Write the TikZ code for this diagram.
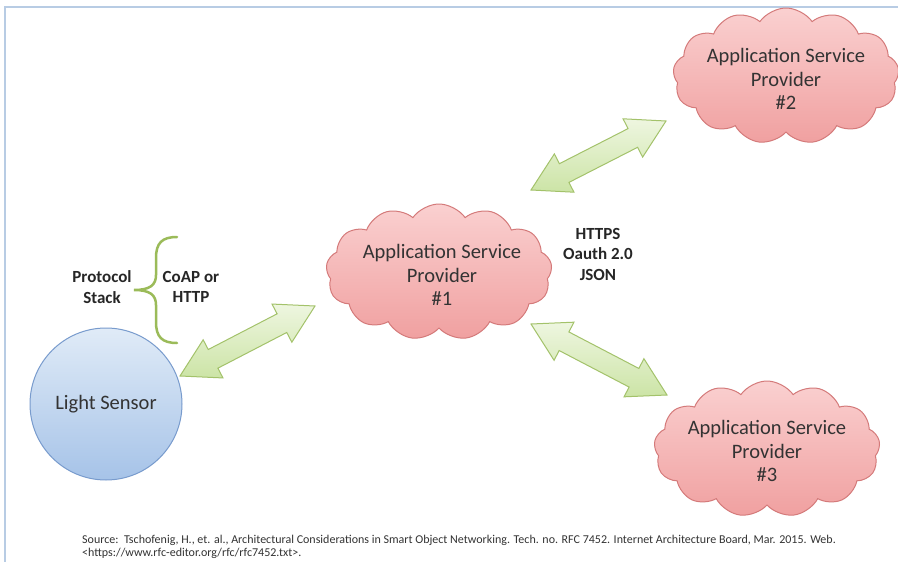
\documentclass[tikz,border=0pt]{standalone}
\usepackage{fontspec}
\setmainfont{Carlito}
\usetikzlibrary{shapes.symbols,shapes.arrows,calc}
\definecolor{framecol}{RGB}{184,204,228}
\definecolor{cloudtop}{RGB}{250,208,208}
\definecolor{cloudbot}{RGB}{240,160,160}
\definecolor{cloudline}{RGB}{212,122,122}
\definecolor{sensortop}{RGB}{224,235,247}
\definecolor{sensorbot}{RGB}{166,195,232}
\definecolor{sensorline}{RGB}{120,155,205}
\definecolor{arrowtop}{RGB}{238,246,224}
\definecolor{arrowbot}{RGB}{204,228,166}
\definecolor{arrowline}{RGB}{163,194,106}
\definecolor{bracecol}{RGB}{155,187,89}
\definecolor{txt}{RGB}{51,51,51}
\tikzset{
  cloudnode/.style={shape=cloud, cloud puffs=13, cloud puff arc=110, aspect=1.7,
    draw=cloudline, line width=1pt, top color=cloudtop, bottom color=cloudbot,
    minimum width=226pt, minimum height=136pt, inner sep=0pt},
  cloudtext/.style={text=txt, align=center, inner sep=0pt,
    font=\fontsize{20.5}{23.5}\selectfont},
  sensornode/.style={circle, draw=sensorline, line width=1pt, top color=sensortop,
    bottom color=sensorbot, minimum size=152pt, inner sep=0pt, text=txt,
    font=\fontsize{20.5}{23.5}\selectfont},
  fatarrow/.style={shape=double arrow, draw=arrowline, line width=1pt,
    top color=arrowtop, bottom color=arrowbot, inner xsep=0pt, inner ysep=10pt,
    minimum width=0pt, double arrow head extend=11pt, double arrow tip angle=60},
  boldlabel/.style={align=center, text=black!85, font=\fontsize{17}{20.5}\selectfont\bfseries},
  sourcetext/.style={align=left, anchor=north west, text=black!80, inner sep=0pt,
    font=\fontsize{12}{13}\selectfont},
}
\newcommand\fatlink[3]{%
  \path let \p1=($(#3)-(#2)$), \n1={atan2(\y1,\x1)}, \n2={veclen(\x1,\y1)} in
    node[fatarrow, rotate=\n1, minimum height=\n2] (#1) at ($(#2)!0.5!(#3)$) {};}
\begin{document}
\begin{tikzpicture}[x=1pt,y=-1pt]
\useasboundingbox (0,0) rectangle (898,562);
\fill[white] (0,0) rectangle (898,562);
% frame
\draw[framecol, line width=2pt] (898,7) -- (5,7) -- (5,562);
% nodes
\node[sensornode] (sensor) at (106,404) {Light Sensor};
\node[cloudnode] (asp1) at (439,272) {};
\node[cloudtext] (asp1t) at (442,275) {Application Service\\Provider\\\#1};
\node[cloudnode] (asp2) at (786,76) {};
\node[cloudtext] (asp2t) at (786,79) {Application Service\\Provider\\\#2};
\node[cloudnode] (asp3) at (767,449) {};
\node[cloudtext] (asp3t) at (767,451) {Application Service\\Provider\\\#3};
% labels
\node[boldlabel] (proto) at (102,287) {Protocol\\Stack};
\node[boldlabel] (coap) at (191,287) {CoAP or\\HTTP};
\node[boldlabel] (https) at (598,254) {HTTPS\\Oauth 2.0\\JSON};
% brace
\draw[bracecol, line width=2.5pt, line cap=round]
  (177,237) .. controls (162,237) and (156,243) .. (156,258) -- (156,275)
  .. controls (156,285) and (150,290) .. (134,290)
  .. controls (150,290) and (156,295) .. (156,305) -- (156,322)
  .. controls (156,337) and (162,343) .. (177,343);
% arrow end points
\coordinate (a1s) at (180,376);
\coordinate (a1e) at (315,306);
\coordinate (a2s) at (531,190);
\coordinate (a2e) at (666,121);
\coordinate (a3s) at (531,324);
\coordinate (a3e) at (667,395);
\fatlink{link1}{a1s}{a1e}
\fatlink{link2}{a2s}{a2e}
\fatlink{link3}{a3s}{a3e}
% source
\node[sourcetext] (source) at (82,535) {Source:\ \ Tschofenig, H., et. al., Architectural Considerations in Smart Object Networking. Tech. no. RFC 7452. Internet Architecture Board, Mar. 2015. Web.\\<https://www.rfc-editor.org/rfc/rfc7452.txt>.};
\end{tikzpicture}
\end{document}
